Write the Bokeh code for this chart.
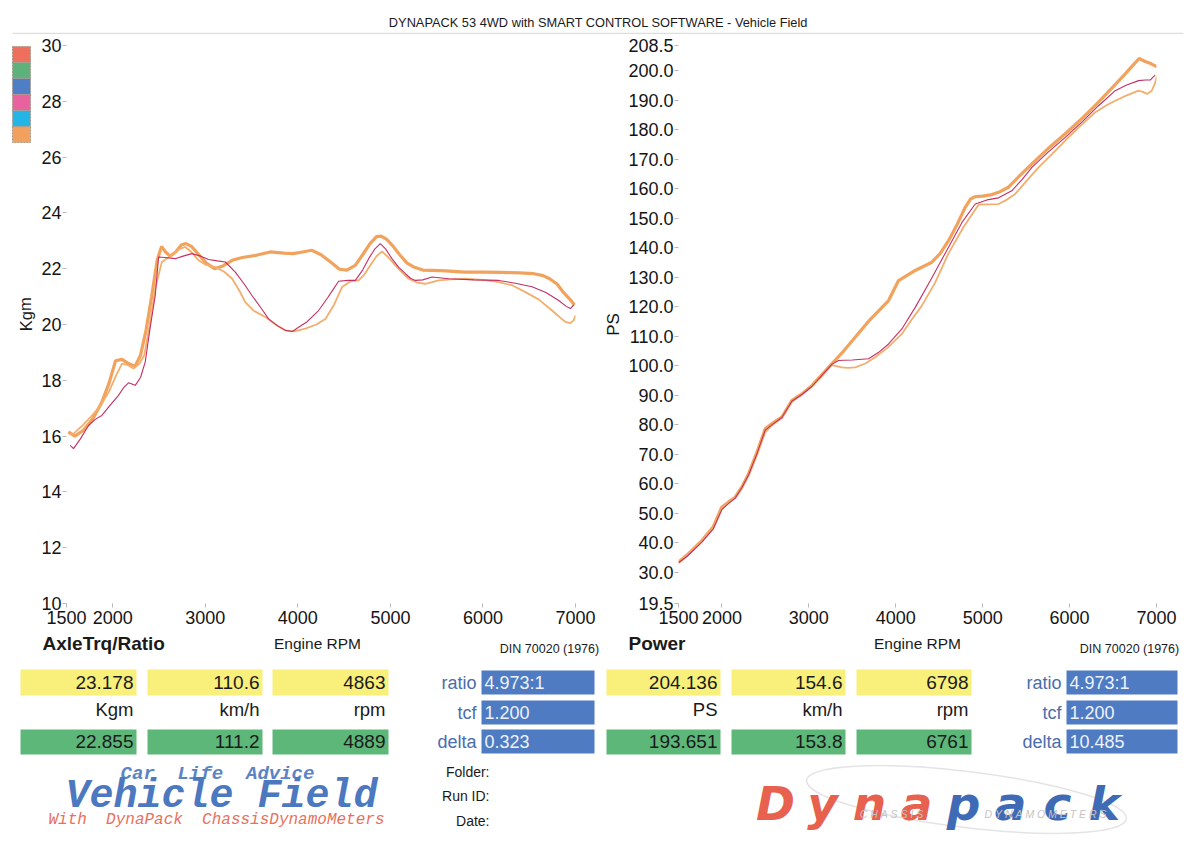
from bokeh.plotting import figure
from bokeh.layouts import column, row
from bokeh.models import Range1d, FixedTicker, NumeralTickFormatter
from bokeh.core.properties import value
from bokeh.embed import file_html
from bokeh.resources import INLINE

FONT = "Liberation Sans"
NB = "\u00a0"

# ---------------- data ----------------
rpm_ticks = [1500, 2000, 3000, 4000, 5000, 6000, 7000]
kgm_ticks = [10, 12, 14, 16, 18, 20, 22, 24, 26, 28, 30]
ps_ticks = [19.5, 30, 40, 50, 60, 70, 80, 90, 100, 110, 120, 130, 140, 150,
            160, 170, 180, 190, 200, 208.5]

swatch_colors = ["#EE6F5E", "#5DB27C", "#4D7EC6", "#E8629F", "#22B5E6", "#F2A05E"]

# axle torque / ratio, run 1 (heavy orange)
trq1_rpm = [1520, 1590, 1680, 1780, 1880, 1960, 2030, 2100, 2170, 2240, 2300, 2360, 2420, 2480,
            2527, 2570, 2620, 2680, 2740, 2790, 2850, 2930, 3010, 3100, 3190, 3290, 3400, 3550,
            3700, 3850, 3950, 4050, 4150, 4250, 4350, 4450, 4530, 4620, 4700, 4780, 4850, 4900,
            4960, 5030, 5100, 5180, 5260, 5350, 5450, 5600, 5800, 6000, 6200, 6400, 6550, 6650,
            6720, 6800, 6870, 6940, 6990]
trq1_kgm = [16.15, 16.0, 16.2, 16.6, 17.2, 17.9, 18.7, 18.75, 18.6, 18.5, 18.9, 19.8, 21.0, 22.3,
            22.8, 22.6, 22.45, 22.6, 22.85, 22.9, 22.8, 22.5, 22.2, 22.0, 22.1, 22.3, 22.4, 22.48,
            22.6, 22.56, 22.54, 22.6, 22.66, 22.5, 22.25, 21.98, 21.95, 22.12, 22.5, 22.9, 23.15, 23.17,
            23.05, 22.8, 22.5, 22.2, 22.05, 21.95, 21.94, 21.92, 21.88, 21.88, 21.87, 21.85, 21.82, 21.75,
            21.64, 21.45, 21.15, 20.9, 20.7]

# run 2 (light orange)
trq2_rpm = [1530, 1580, 1680, 1780, 1870, 1960, 2040, 2100, 2160, 2224, 2290, 2340, 2400, 2460,
            2530, 2600, 2660, 2720, 2783, 2850, 2927, 3000, 3107, 3200, 3290, 3370, 3432, 3520,
            3648, 3760, 3865, 3960, 4081, 4200, 4297, 4390, 4477, 4570, 4657, 4720, 4783, 4850,
            4909, 4980, 5053, 5130, 5197, 5290, 5378, 5450, 5522, 5650, 5810, 6000, 6170, 6320,
            6459, 6600, 6747, 6850, 6891, 6945, 6980, 7000]
trq2_kgm = [16.05, 16.1, 16.4, 16.75, 17.1, 17.6, 18.2, 18.6, 18.55, 18.42, 18.6, 18.9, 20.0, 21.3,
            22.24, 22.4, 22.54, 22.7, 22.78, 22.6, 22.3, 22.15, 22.06, 21.9, 21.64, 21.2, 20.8, 20.5,
            20.27, 20.0, 19.79, 19.75, 19.85, 20.0, 20.2, 20.7, 21.34, 21.55, 21.58, 21.8, 22.12, 22.45,
            22.62, 22.4, 22.12, 21.85, 21.64, 21.5, 21.46, 21.52, 21.58, 21.62, 21.64, 21.6, 21.52, 21.4,
            21.16, 20.9, 20.5, 20.2, 20.09, 20.05, 20.15, 20.33]

# run 3 (crimson)
trq3_rpm = [1540, 1576, 1650, 1738, 1810, 1882, 1970, 2062, 2120, 2170, 2243, 2300, 2351, 2400,
            2459, 2495, 2560, 2675, 2760, 2855, 2950, 3035, 3130, 3216, 3324, 3420, 3504, 3600,
            3684, 3780, 3865, 3940, 4008, 4100, 4224, 4320, 4380, 4440, 4540, 4621, 4700, 4765,
            4830, 4891, 4950, 5016, 5090, 5162, 5220, 5270, 5350, 5449, 5630, 5900, 6170, 6350,
            6530, 6680, 6819, 6900, 6945, 6981]
trq3_kgm = [15.67, 15.55, 15.9, 16.38, 16.6, 16.74, 17.1, 17.46, 17.75, 17.91, 17.82, 18.1, 18.66, 19.8,
            21.04, 22.42, 22.4, 22.36, 22.45, 22.54, 22.45, 22.33, 22.28, 22.24, 21.88, 21.45, 21.04, 20.6,
            20.2, 19.95, 19.79, 19.75, 19.9, 20.1, 20.5, 20.95, 21.25, 21.55, 21.58, 21.58, 21.95, 22.36,
            22.7, 22.9, 22.7, 22.36, 22.05, 21.82, 21.65, 21.58, 21.6, 21.7, 21.64, 21.6, 21.58, 21.48,
            21.35, 21.15, 20.86, 20.65, 20.57, 20.7]

# power, run 1
pwr1_rpm = [1500, 1600, 1768, 1900, 1998, 2080, 2152, 2230, 2306, 2400, 2498, 2574, 2689, 2804,
            2920, 3034, 3150, 3264, 3400, 3533, 3700, 3917, 4032, 4224, 4415, 4510, 4607, 4700,
            4799, 4860, 4914, 5000, 5105, 5200, 5297, 5430, 5566, 5750, 5950, 6150, 6333, 6500,
            6640, 6720, 6800, 6870, 6940, 7004]
pwr1_ps = [33.5, 36.0, 40.8, 45.5, 52.1, 54.0, 55.5, 59.0, 63.4, 70.5, 78.7, 80.4, 82.6, 88.2,
           90.5, 93.3, 97.0, 100.7, 105.0, 109.7, 115.5, 122.1, 128.9, 132.3, 135.1, 138.0, 142.4, 147.5,
           153.7, 156.5, 157.3, 157.5, 158.0, 159.0, 160.5, 164.5, 168.4, 173.5, 178.6, 184.0, 189.3, 194.5,
           198.9, 201.5, 204.1, 203.1, 202.3, 201.3]

# power, run 2
pwr2_rpm = [1500, 1600, 1768, 1900, 1998, 2080, 2152, 2230, 2306, 2400, 2498, 2574, 2689, 2804,
            2920, 3034, 3150, 3264, 3379, 3450, 3533, 3650, 3763, 3900, 4070, 4180, 4300, 4450,
            4607, 4780, 4952, 5060, 5182, 5280, 5374, 5500, 5643, 5800, 5950, 6120, 6295, 6420,
            6525, 6650, 6793, 6850, 6889, 6946, 6980, 7004]
pwr2_ps = [33.5, 35.8, 40.6, 45.0, 51.5, 53.8, 55.3, 58.5, 62.8, 69.5, 77.5, 79.8, 82.3, 87.8,
           90.5, 93.0, 96.5, 100.2, 99.5, 99.3, 99.5, 100.8, 102.9, 106.0, 110.8, 115.5, 120.4, 128.0,
           138.1, 147.0, 154.6, 154.7, 154.8, 156.3, 158.2, 162.5, 167.2, 171.8, 176.3, 181.2, 185.9, 188.2,
           189.8, 191.5, 193.2, 192.7, 192.1, 193.2, 195.5, 198.0]

# power, run 3
pwr3_rpm = [1500, 1600, 1768, 1900, 1998, 2080, 2152, 2230, 2306, 2400, 2498, 2574, 2689, 2804,
            2920, 3034, 3150, 3264, 3341, 3400, 3500, 3686, 3800, 3917, 4070, 4224, 4400, 4607,
            4760, 4914, 5050, 5182, 5335, 5450, 5566, 5750, 5950, 6150, 6333, 6525, 6650, 6793,
            6870, 6928, 6960, 6985]
pwr3_ps = [33.3, 35.5, 40.3, 44.8, 51.3, 53.5, 55.2, 58.8, 63.0, 70.0, 78.2, 80.0, 82.5, 88.0,
           90.3, 93.0, 96.8, 100.5, 101.8, 101.9, 102.0, 102.4, 104.5, 107.4, 112.5, 119.8, 129.0, 140.2,
           148.5, 154.8, 156.2, 156.9, 159.3, 163.0, 167.2, 172.3, 177.4, 182.8, 188.1, 193.2, 195.0, 196.6,
           196.8, 196.8, 197.8, 198.5]

# readout panels
trq_units = ["Kgm", "km/h", "rpm"]
trq_run1 = ["23.178", "110.6", "4863"]
trq_run2 = ["22.855", "111.2", "4889"]
pwr_units = ["PS", "km/h", "rpm"]
pwr_run1 = ["204.136", "154.6", "6798"]
pwr_run2 = ["193.651", "153.8", "6761"]
setup_names = ["ratio", "tcf", "delta"]
trq_setup = ["4.973:1", "1.200", "0.323"]
pwr_setup = ["4.973:1", "1.200", "10.485"]

HEAVY = "#F1A25C"
LIGHT = "#F3AE6E"
CRIMSON = "#C42F63"


def style_axis(ax, standoff):
    ax.axis_line_color = None
    ax.major_tick_line_color = "#b8b8b8"
    ax.major_tick_out = 4
    ax.major_tick_in = 0
    ax.minor_tick_line_color = None
    ax.major_label_text_font = FONT
    ax.major_label_text_font_size = "18px"
    ax.major_label_text_color = "#141414"
    ax.major_label_standoff = standoff
    ax.axis_label_text_font = FONT
    ax.axis_label_text_font_size = "17px"
    ax.axis_label_text_font_style = "normal"
    ax.axis_label_text_color = "#141414"
    ax.axis_label_standoff = 2


def chart(yr, yticks, ylabel, frame_w, bl, br):
    p = figure(frame_width=frame_w, frame_height=558, x_range=Range1d(1500, 7000),
               y_range=Range1d(*yr), output_backend="svg", toolbar_location=None,
               min_border_left=bl, min_border_right=br, min_border_top=11, min_border_bottom=29,
               background_fill_color="white", border_fill_color="white")
    p.grid.visible = False
    p.outline_line_color = None
    p.xaxis.ticker = FixedTicker(ticks=rpm_ticks)
    p.yaxis.ticker = FixedTicker(ticks=yticks)
    if ylabel:
        p.yaxis.axis_label = ylabel
    style_axis(p.xaxis[0], 3)
    style_axis(p.yaxis[0], 1)
    return p


def canvas(w, h, y0, y1):
    p = figure(width=w, height=h, x_range=Range1d(0, w), y_range=Range1d(y1, y0),
               output_backend="svg", toolbar_location=None, min_border=0,
               background_fill_color="white", border_fill_color="white")
    p.axis.visible = False
    p.grid.visible = False
    p.outline_line_color = None
    return p


def put(p, x, y, s, size, color="#1a1a1a", align="left", style="normal", font=FONT,
        baseline="middle", angle=0.0):
    p.text(x=[x], y=[y], text=[s], text_font=value(font), text_font_size=value(f"{size}px"),
           text_color=color, text_align=align, text_baseline=baseline, text_font_style=style,
           angle=angle)


# ---------------- run swatches + torque unit strip ----------------
ps_strip = canvas(36, 598, 34, 632)
sw_top = [35 + 17.2 * i for i in range(len(swatch_colors))]
ps_strip.quad(left=12, right=30, top=sw_top, bottom=[t + 17 for t in sw_top],
              fill_color=swatch_colors, line_color="#a89a8a", line_dash="2 1", line_width=1)
put(ps_strip, 25, 322, "Kgm", 16.5, align="center", angle=1.5708)

# ---------------- torque chart ----------------
pt = chart((10, 30), kgm_ticks, None, 509, 30, 23)
pt.line(trq1_rpm, trq1_kgm, line_color=HEAVY, line_width=3.2)
pt.line(trq2_rpm, trq2_kgm, line_color=LIGHT, line_width=1.8)
pt.line(trq3_rpm, trq3_kgm, line_color=CRIMSON, line_width=1.1)

# ---------------- power chart ----------------
pp = chart((19.5, 208.5), ps_ticks, "PS", 478, 80, 42)
pp.yaxis.formatter = NumeralTickFormatter(format="0.0")
pp.line(pwr1_rpm, pwr1_ps, line_color=HEAVY, line_width=3.2)
pp.line(pwr2_rpm, pwr2_ps, line_color=LIGHT, line_width=1.8)
pp.line(pwr3_rpm, pwr3_ps, line_color=CRIMSON, line_width=1.1)

# ---------------- header ----------------
ph = canvas(1200, 34, 0, 34)
put(ph, 598, 22, "DYNAPACK 53 4WD with SMART CONTROL SOFTWARE - Vehicle Field", 12.8,
    align="center")
ph.segment(x0=[12], y0=[33], x1=[1183], y1=[33], line_color="#dddddd", line_width=1.5)

# ---------------- footer ----------------
pf = canvas(1200, 212, 632, 844)

YELLOW = "#F8F07A"
GREEN = "#5CB779"
BLUE = "#4F7BC3"
BLUE_TXT = "#4A6DAE"


def panel(x0, title, units, run1, run2, setup, din_x, rpm_x, col_x, blue_x):
    put(pf, x0, 643, title, 19, style="bold")
    put(pf, rpm_x, 643, "Engine RPM", 15.5, align="center")
    put(pf, din_x, 648, "DIN 70020 (1976)", 12.5, align="center")
    for i, (l, r) in enumerate(col_x):
        pf.quad(left=[l], right=[r], top=[669], bottom=[695], fill_color=YELLOW, line_color=None)
        pf.quad(left=[l], right=[r], top=[729], bottom=[754], fill_color=GREEN, line_color=None)
        put(pf, r - 3, 682, run1[i], 19, align="right")
        put(pf, r - 3, 709, units[i], 18.5, align="right")
        put(pf, r - 3, 741, run2[i], 19, align="right")
    bl, br = blue_x
    for j, (top, bot) in enumerate([(670, 694), (700, 724), (729, 753)]):
        pf.quad(left=[bl], right=[br], top=[top], bottom=[bot], fill_color=BLUE, line_color=None)
        put(pf, bl - 5, (top + bot) / 2, setup_names[j], 18, color=BLUE_TXT, align="right")
        put(pf, bl + 3, (top + bot) / 2, setup[j], 18, color="#EEF2FA")


panel(42, "AxleTrq/Ratio", trq_units, trq_run1, trq_run2, trq_setup, 549, 317,
      [(20, 136), (147, 262), (272, 388)], (481, 594))
panel(628, "Power", pwr_units, pwr_run1, pwr_run2, pwr_setup, 1129, 917,
      [(606, 720), (731, 845), (856, 971)], (1066, 1177))

# workshop mark
put(pf, 217, 773, f"Car{NB}{NB}Life{NB}{NB}Advice", 19, color="#5A84C6", align="center",
    style="bold italic", font="Liberation Mono")
put(pf, 221, 796, "Vehicle Field", 40, color="#4C78C0", align="center",
    style="bold italic", font="Liberation Mono")
put(pf, 216, 819, f"With{NB}{NB}DynaPack{NB}{NB}ChassisDynamoMeters", 16, color="#E8705C",
    align="center", style="italic", font="Liberation Mono")

put(pf, 489, 771, "Folder:", 14, align="right")
put(pf, 489, 795, "Run ID:", 14, align="right")
put(pf, 489, 820, "Date:", 14, align="right")

# Dynapack logo: wide-set letters, red "Dyna" + blue "pack"
pf.ellipse(x=[966], y=[799], width=[322], height=[56], angle=-0.12, fill_color=None,
           line_color="#e4e4e4", line_width=1.5)
logo_letters = list("Dynapack")
logo_colors = ["#E8604E"] * 4 + ["#3F6BB6"] * 4
for k, (ch, col) in enumerate(zip(logo_letters, logo_colors)):
    put(pf, 775 + 47 * k, 803, ch, 47, color=col, align="center", style="bold italic",
        font="DejaVu Sans", baseline="alphabetic")
put(pf, 891, 813, f"C{NB}H{NB}A{NB}S{NB}S{NB}I{NB}S", 10.5, color="#c4c4c4", align="center",
    style="italic")
put(pf, 1045, 813, NB.join("DYNAMOMETERS"), 10.5, color="#c4c4c4", align="center",
    style="italic")

layout = column(ph, row(ps_strip, pt, pp, spacing=0), pf, spacing=0)
open("out.html", "w").write(file_html(layout, INLINE))
